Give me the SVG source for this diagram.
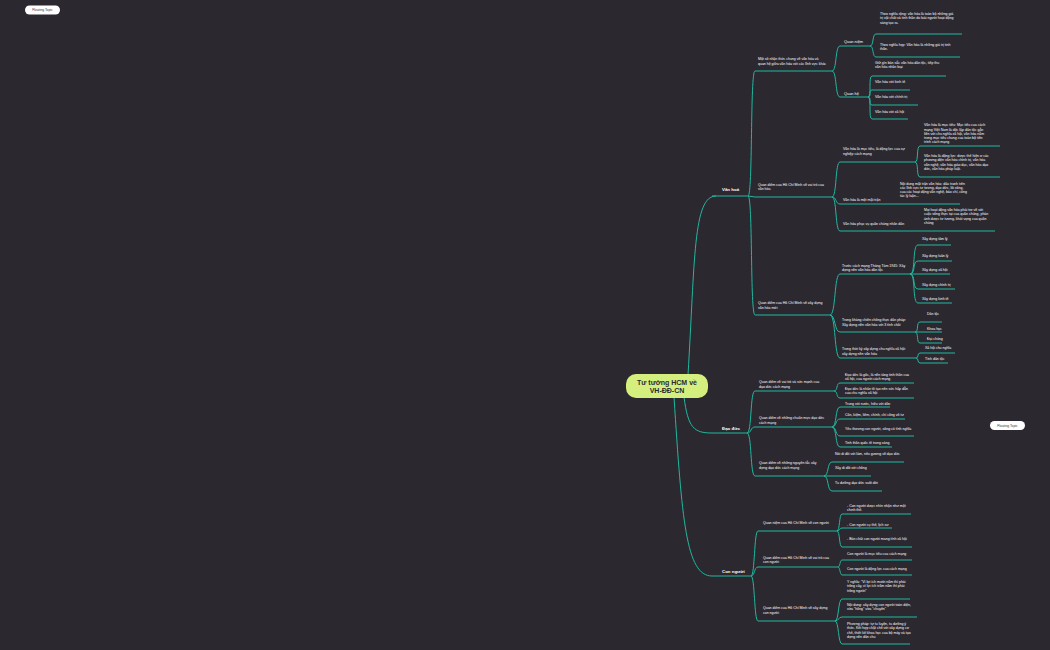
<svg xmlns="http://www.w3.org/2000/svg" width="1050" height="650" viewBox="0 0 1050 650">
<style>
.bg{fill:#2c2830}
.c{fill:none;stroke:#1fb89f;stroke-width:1}
.u{fill:none;stroke:#1fb89f;stroke-width:1}
text{font-family:"Liberation Sans",Arial,sans-serif;fill:#ffffff}
.s{font-size:3.5px}
.q{font-size:3.9px}
.m{font-size:4.4px;font-weight:bold}
.r{font-size:7px;font-weight:bold;fill:#2c2830;text-anchor:middle}
.f{font-size:3.3px;fill:#333;text-anchor:middle}
.fl{fill:#ffffff}
</style>
<rect class="bg" x="0" y="0" width="1050" height="650"/>
<g id="connectors">
<path class="c" d="M688,375 C695,260 693,196 716,196"/>
<path class="c" d="M684,397 C688,428 694,433 712,433"/>
<path class="c" d="M674,397 C682,520 686,576 712,576"/>
<path class="c" d="M748,196 C753,196 750,71 755,71"/>
<path class="c" d="M748,196 L755,197"/>
<path class="c" d="M748,196 C753,196 750,315 755,315"/>
<path class="c" d="M832,71 C837,71 835,46 840,46"/>
<path class="c" d="M832,71 C837,71 835,97 840,97"/>
<path class="c" d="M870,46 C874,46 872,34 876,34"/>
<path class="c" d="M870,46 C874,46 872,57 876,57"/>
<path class="c" d="M868,97 C872,97 868,76 872,76"/>
<path class="c" d="M868,97 C872,97 868,90 872,90"/>
<path class="c" d="M868,97 C872,97 868,105 872,105"/>
<path class="c" d="M868,97 C872,97 868,119 872,119"/>
<path class="c" d="M832,197 C837,197 835,162 840,162"/>
<path class="c" d="M832,197 C837,197 835,204 840,204"/>
<path class="c" d="M832,197 C837,197 835,231 840,231"/>
<path class="c" d="M915,162 C919,162 916,146 920,146"/>
<path class="c" d="M915,162 C919,162 916,177 920,177"/>
<path class="c" d="M830,315 C836,315 834,274 840,274"/>
<path class="c" d="M830,315 C836,315 834,332 840,332"/>
<path class="c" d="M830,315 C836,315 834,358 840,358"/>
<path class="c" d="M910,274 C916,274 912,245 918,245"/>
<path class="c" d="M910,274 C916,274 912,261 918,261"/>
<path class="c" d="M910,274 L918,274"/>
<path class="c" d="M910,274 C916,274 912,289 918,289"/>
<path class="c" d="M910,274 C916,274 912,303 918,303"/>
<path class="c" d="M915,332 C919,332 916,322 920,322"/>
<path class="c" d="M915,332 L920,332"/>
<path class="c" d="M915,332 C919,332 916,343 920,343"/>
<path class="c" d="M916,358 C919,358 917,353 920,353"/>
<path class="c" d="M916,358 C919,358 917,363 920,363"/>
<path class="c" d="M747,433 C752,433 750,391 755,391"/>
<path class="c" d="M747,433 C752,433 750,427 755,427"/>
<path class="c" d="M747,433 C752,433 750,476 755,476"/>
<path class="c" d="M834,391 C838,391 836,383 840,383"/>
<path class="c" d="M834,391 C838,391 836,398 840,398"/>
<path class="c" d="M832,427 C837,427 835,407 840,407"/>
<path class="c" d="M832,427 C837,427 835,419 840,419"/>
<path class="c" d="M832,427 C837,427 835,436 840,436"/>
<path class="c" d="M832,427 C837,427 835,447 840,447"/>
<path class="c" d="M824,476 C829,476 827,462 832,462"/>
<path class="c" d="M824,476 L832,476"/>
<path class="c" d="M824,476 C829,476 827,491 832,491"/>
<path class="c" d="M751,576 C755,576 754,531 758,531"/>
<path class="c" d="M751,576 C755,576 754,567 758,567"/>
<path class="c" d="M751,576 C755,576 754,621 758,621"/>
<path class="c" d="M837,531 C840,531 839,514 842,514"/>
<path class="c" d="M837,531 C840,531 839,528 842,528"/>
<path class="c" d="M837,531 C840,531 839,547 842,547"/>
<path class="c" d="M838,567 C840,567 840,560 842,560"/>
<path class="c" d="M838,567 C840,567 840,575 842,575"/>
<path class="c" d="M835,621 C839,621 838,599 842,599"/>
<path class="c" d="M835,621 C839,621 838,617 842,617"/>
<path class="c" d="M835,621 C839,621 838,644 842,644"/>
</g>
<g id="root">
<rect x="626" y="374" width="82" height="24" rx="10" fill="#d5ef7e"/>
<text class="r" x="667" y="384.5">Tư tưởng HCM về</text>
<text class="r" x="667" y="393">VH-ĐĐ-CN</text>
</g>
<g id="float1"><rect class="fl" x="25" y="5.5" width="35" height="9" rx="4.5"/><text class="f" x="42.5" y="11.2">Floating Topic</text></g>
<g id="float2"><rect class="fl" x="990" y="421" width="35" height="9" rx="4.5"/><text class="f" x="1007.5" y="426.7">Floating Topic</text></g>

<g id="van-hoa"><line class="u" x1="712" y1="196" x2="748" y2="196"/><text class="m" x="722" y="190.5">Văn hoá</text></g>
<g id="vh-nhan-thuc"><line class="u" x1="755" y1="71" x2="832" y2="71"/><text class="s" x="758" y="60.2">Một số nhận thức chung về văn hóa và<tspan x="758" dy="4.5">quan hệ giữa văn hóa với các lĩnh vực khác</tspan></text></g>
<g id="vh-quan-niem"><line class="u" x1="840" y1="46" x2="870" y2="46"/><text class="q" x="844" y="43">Quan niệm</text></g>
<g id="vh-nghia-rong"><line class="u" x1="876" y1="34" x2="962" y2="34"/><text class="s" x="880" y="15.2">Theo nghĩa rộng: văn hóa là toàn bộ những giá<tspan x="880" dy="4.2">trị vật chất và tinh thần do loài người hoạt động</tspan><tspan x="880" dy="4.2">sáng tạo ra.</tspan></text></g>
<g id="vh-nghia-hep"><line class="u" x1="876" y1="57" x2="960" y2="57"/><text class="s" x="880" y="46">Theo nghĩa hẹp: Văn hóa là những giá trị tinh<tspan x="880" dy="4.2">thần.</tspan></text></g>
<g id="vh-quan-he"><line class="u" x1="840" y1="97" x2="868" y2="97"/><text class="q" x="844" y="95">Quan hệ</text></g>
<g id="vh-giu-gin"><line class="u" x1="872" y1="76" x2="946" y2="76"/><text class="s" x="875" y="64.2">Giữ gìn bản sắc văn hóa dân tộc, tiếp thu<tspan x="875" dy="4.2">văn hóa nhân loại</tspan></text></g>
<g id="vh-kinh-te"><line class="u" x1="872" y1="90" x2="910" y2="90"/><text class="s" x="875" y="83.2">Văn hóa với kinh tế</text></g>
<g id="vh-chinh-tri"><line class="u" x1="872" y1="105" x2="918" y2="105"/><text class="s" x="875" y="98">Văn hóa với chính trị</text></g>
<g id="vh-xa-hoi"><line class="u" x1="872" y1="119" x2="908" y2="119"/><text class="s" x="875" y="112.5">Văn hóa với xã hội</text></g>

<g id="vh-vai-tro"><line class="u" x1="755" y1="197" x2="832" y2="197"/><text class="s" x="758" y="185.5">Quan điểm của Hồ Chí Minh về vai trò của<tspan x="758" dy="4.5">văn hóa</tspan></text></g>
<g id="vh-muc-tieu-dong-luc"><line class="u" x1="840" y1="162" x2="915" y2="162"/><text class="s" x="843" y="150">Văn hóa là mục tiêu, là động lực của sự<tspan x="843" dy="4.5">nghiệp cách mạng</tspan></text></g>
<g id="vh-muc-tieu"><line class="u" x1="920" y1="146" x2="1000" y2="146"/><text class="s" x="924" y="126.2">Văn hóa là mục tiêu: Mục tiêu của cách<tspan x="924" dy="4.3">mạng Việt Nam là độc lập dân tộc gắn</tspan><tspan x="924" dy="4.3">liền với chủ nghĩa xã hội, văn hóa nằm</tspan><tspan x="924" dy="4.3">trong mục tiêu chung của toàn bộ tiến</tspan><tspan x="924" dy="4.3">trình cách mạng</tspan></text></g>
<g id="vh-dong-luc"><line class="u" x1="920" y1="177" x2="1000" y2="177"/><text class="s" x="924" y="157.2">Văn hóa là động lực: được thể hiện ở các<tspan x="924" dy="4.2">phương diện văn hóa chính trị, văn hóa</tspan><tspan x="924" dy="4.2">văn nghệ, văn hóa giáo dục, văn hóa đạo</tspan><tspan x="924" dy="4.2">đức, văn hóa pháp luật.</tspan></text></g>
<g id="vh-mat-tran"><line class="u" x1="840" y1="204" x2="897" y2="204"/><text class="s" x="843" y="201">Văn hóa là một mặt trận</text></g>
<g id="vh-noi-dung-mat-tran"><line class="u" x1="897" y1="204" x2="960" y2="204"/><text class="s" x="900" y="184.5">Nội dung mặt trận văn hóa: đấu tranh trên<tspan x="900" dy="4.2">các lĩnh vực tư tưởng, đạo đức, lối sống,</tspan><tspan x="900" dy="4.2">của các hoạt động văn nghệ, báo chí, công</tspan><tspan x="900" dy="4.2">tác lý luận...</tspan></text></g>
<g id="vh-phuc-vu"><line class="u" x1="840" y1="231" x2="920" y2="231"/><text class="s" x="843" y="225.2">Văn hóa phục vụ quần chúng nhân dân</text></g>
<g id="vh-moi-hoat-dong"><line class="u" x1="920" y1="231" x2="995" y2="231"/><text class="s" x="924" y="211.2">Mọi hoạt động văn hóa phải trở về với<tspan x="924" dy="4.2">cuộc sống thực tại của quần chúng, phản</tspan><tspan x="924" dy="4.2">ánh được tư tưởng, khát vọng của quần</tspan><tspan x="924" dy="4.2">chúng</tspan></text></g>

<g id="vh-xay-dung"><line class="u" x1="755" y1="315" x2="830" y2="315"/><text class="s" x="758" y="304.2">Quan điểm của Hồ Chí Minh về xây dựng<tspan x="758" dy="4.5">văn hóa mới</tspan></text></g>
<g id="vh-truoc-cm"><line class="u" x1="840" y1="274" x2="910" y2="274"/><text class="s" x="842" y="266.5">Trước cách mạng Tháng Tám 1945: Xây<tspan x="842" dy="4.3">dựng nền văn hóa dân tộc</tspan></text></g>
<g id="vh-tam-ly"><line class="u" x1="918" y1="245" x2="951" y2="245"/><text class="s" x="922" y="239.5">Xây dựng tâm lý</text></g>
<g id="vh-luan-ly"><line class="u" x1="918" y1="261" x2="952" y2="261"/><text class="s" x="922" y="256.5">Xây dựng luân lý</text></g>
<g id="vh-xd-xa-hoi"><line class="u" x1="918" y1="274" x2="950" y2="274"/><text class="s" x="922" y="271">Xây dựng xã hội</text></g>
<g id="vh-xd-chinh-tri"><line class="u" x1="918" y1="289" x2="955" y2="289"/><text class="s" x="922" y="285.5">Xây dựng chính trị</text></g>
<g id="vh-xd-kinh-te"><line class="u" x1="918" y1="303" x2="952" y2="303"/><text class="s" x="922" y="299.8">Xây dựng kinh tế</text></g>
<g id="vh-khang-chien"><line class="u" x1="840" y1="332" x2="915" y2="332"/><text class="s" x="842" y="321.2">Trong kháng chiến chống thực dân pháp:<tspan x="842" dy="4.3">Xây dựng nền văn hóa với 3 tính chất</tspan></text></g>
<g id="vh-dan-toc"><line class="u" x1="920" y1="322" x2="942" y2="322"/><text class="s" x="927" y="315.2">Dân tộc</text></g>
<g id="vh-khoa-hoc"><line class="u" x1="920" y1="332" x2="942" y2="332"/><text class="s" x="927" y="329.5">Khoa học</text></g>
<g id="vh-dai-chung"><line class="u" x1="920" y1="343" x2="942" y2="343"/><text class="s" x="927" y="340">Đại chúng</text></g>
<g id="vh-thoi-ky-xhcn"><line class="u" x1="840" y1="358" x2="916" y2="358"/><text class="s" x="842" y="350.2">Trong thời kỳ xây dựng chủ nghĩa xã hội:<tspan x="842" dy="4.3">xây dựng nền văn hóa</tspan></text></g>
<g id="vh-xhcn"><line class="u" x1="920" y1="353" x2="955" y2="353"/><text class="s" x="925" y="349.2">Xã hội chủ nghĩa</text></g>
<g id="vh-tinh-dan-toc"><line class="u" x1="920" y1="363" x2="948" y2="363"/><text class="s" x="925" y="360">Tính dân tộc</text></g>

<g id="dao-duc"><line class="u" x1="712" y1="433" x2="747" y2="433"/><text class="m" x="722" y="429.5">Đạo đức</text></g>
<g id="dd-vai-tro"><line class="u" x1="755" y1="391" x2="834" y2="391"/><text class="s" x="759" y="383.2">Quan điểm về vai trò và sức mạnh của<tspan x="759" dy="4.3">đạo đức cách mạng</tspan></text></g>
<g id="dd-goc"><line class="u" x1="840" y1="383" x2="914" y2="383"/><text class="s" x="845" y="376.2">Đạo đức là gốc, là nền tảng tinh thần của<tspan x="845" dy="4.2">xã hội, của người cách mạng</tspan></text></g>
<g id="dd-hap-dan"><line class="u" x1="840" y1="398" x2="914" y2="398"/><text class="s" x="845" y="390.2">Đạo đức là nhân tố tạo nên sức hấp dẫn<tspan x="845" dy="4.2">của chủ nghĩa xã hội</tspan></text></g>
<g id="dd-chuan-muc"><line class="u" x1="755" y1="427" x2="832" y2="427"/><text class="s" x="759" y="419.2">Quan điểm về những chuẩn mực đạo đức<tspan x="759" dy="4.3">cách mạng</tspan></text></g>
<g id="dd-trung"><line class="u" x1="840" y1="407" x2="890" y2="407"/><text class="s" x="845" y="405">Trung với nước, hiếu với dân</text></g>
<g id="dd-can-kiem"><line class="u" x1="840" y1="419" x2="905" y2="419"/><text class="s" x="845" y="415.5">Cần, kiệm, liêm, chính, chí công vô tư</text></g>
<g id="dd-yeu-thuong"><line class="u" x1="840" y1="436" x2="914" y2="436"/><text class="s" x="845" y="429.5">Yêu thương con người, sống có tình nghĩa</text></g>
<g id="dd-quoc-te"><line class="u" x1="840" y1="447" x2="892" y2="447"/><text class="s" x="845" y="443.5">Tinh thần quốc tế trong sáng</text></g>
<g id="dd-nguyen-tac"><line class="u" x1="755" y1="476" x2="824" y2="476"/><text class="s" x="759" y="464.2">Quan điểm về những nguyên tắc xây<tspan x="759" dy="4.3">dựng đạo đức cách mạng</tspan></text></g>
<g id="dd-noi-lam"><line class="u" x1="832" y1="462" x2="904" y2="462"/><text class="s" x="835" y="454.5">Nói đi đôi với làm, nêu gương về đạo đức</text></g>
<g id="dd-xay-chong"><line class="u" x1="832" y1="476" x2="871" y2="476"/><text class="s" x="835" y="469.2">Xây đi đôi với chống</text></g>
<g id="dd-tu-duong"><line class="u" x1="832" y1="491" x2="882" y2="491"/><text class="s" x="835" y="484.2">Tu dưỡng đạo đức suốt đời</text></g>

<g id="con-nguoi"><line class="u" x1="712" y1="576" x2="751" y2="576"/><text class="m" x="722" y="572.5">Con người</text></g>
<g id="cn-quan-niem"><line class="u" x1="758" y1="531" x2="837" y2="531"/><text class="s" x="763" y="524">Quan niệm của Hồ Chí Minh về con người</text></g>
<g id="cn-chinh-the"><line class="u" x1="842" y1="514" x2="911" y2="514"/><text class="s" x="847" y="507.2">- Con người được nhìn nhận như một<tspan x="847" dy="4.2">chỉnh thể.</tspan></text></g>
<g id="cn-cu-the"><line class="u" x1="842" y1="528" x2="892" y2="528"/><text class="s" x="847" y="526">- Con người cụ thể, lịch sử</text></g>
<g id="cn-ban-chat"><line class="u" x1="842" y1="547" x2="912" y2="547"/><text class="s" x="847" y="540.2">- Bản chất con người mang tính xã hội</text></g>
<g id="cn-vai-tro"><line class="u" x1="758" y1="567" x2="838" y2="567"/><text class="s" x="763" y="558.5">Quan điểm của Hồ Chí Minh về vai trò của<tspan x="763" dy="4.3">con người</tspan></text></g>
<g id="cn-muc-tieu"><line class="u" x1="842" y1="560" x2="912" y2="560"/><text class="s" x="847" y="555">Con người là mục tiêu của cách mạng</text></g>
<g id="cn-dong-luc"><line class="u" x1="842" y1="575" x2="912" y2="575"/><text class="s" x="847" y="569.5">Con người là động lực của cách mạng</text></g>
<g id="cn-xay-dung"><line class="u" x1="758" y1="621" x2="835" y2="621"/><text class="s" x="763" y="609.2">Quan điểm của Hồ Chí Minh về xây dựng<tspan x="763" dy="4.3">con người</tspan></text></g>
<g id="cn-y-nghia"><line class="u" x1="842" y1="599" x2="910" y2="599"/><text class="s" x="847" y="583.2">Ý nghĩa: "Vì lợi ích mười năm thì phải<tspan x="847" dy="4.2">trồng cây, vì lợi ích trăm năm thì phải</tspan><tspan x="847" dy="4.2">trồng người"</tspan></text></g>
<g id="cn-noi-dung"><line class="u" x1="842" y1="617" x2="917" y2="617"/><text class="s" x="847" y="606.2">Nội dung: xây dựng con người toàn diện,<tspan x="847" dy="4.2">vừa "hồng" vừa "chuyên"</tspan></text></g>
<g id="cn-phuong-phap"><line class="u" x1="842" y1="644" x2="910" y2="644"/><text class="s" x="847" y="625.2">Phương pháp: tự tu luyện, tu dưỡng ý<tspan x="847" dy="4.2">thức. Kết hợp chặt chẽ với xây dựng cơ</tspan><tspan x="847" dy="4.2">chế, thiết kế khoa học của bộ máy và tạo</tspan><tspan x="847" dy="4.2">dựng nền dân chủ</tspan></text></g>
</svg>
